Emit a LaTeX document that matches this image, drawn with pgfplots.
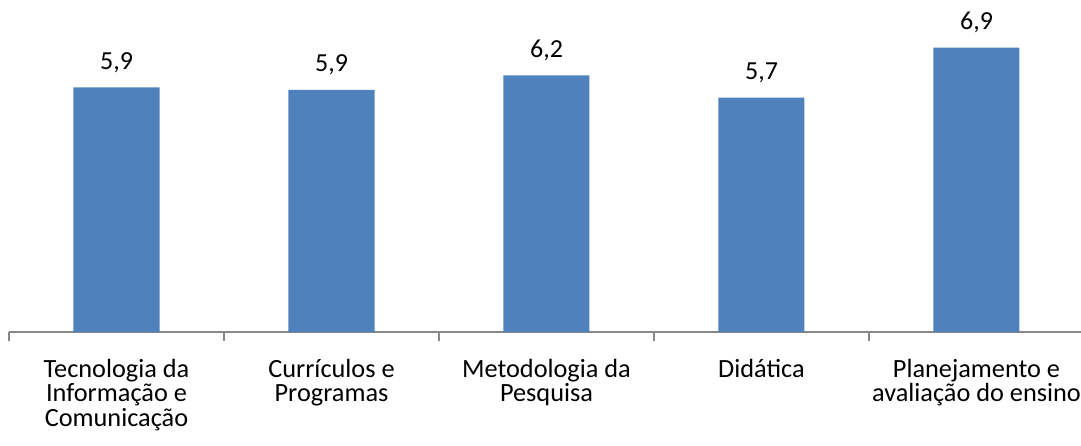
\documentclass[border=0pt]{standalone}
\usepackage{fontspec}
\setmainfont{Carlito}
\usepackage{pgfplots}
\pgfplotsset{compat=1.18}
\definecolor{barblue}{HTML}{4F81BD}
\definecolor{axgray}{HTML}{878787}
\newcommand\fl{\rule{0pt}{21pt}}
\begin{document}
\begin{tikzpicture}[x=1pt,y=1pt]
\useasboundingbox (-9,-113) rectangle (1072,332);
\clip (-9,-113) rectangle (1072,332);
\begin{axis}[
  at={(0,0)}, anchor=south west,
  scale only axis, width=1075pt, height=329.6pt,
  xmin=-0.5, xmax=4.5, ymin=0, ymax=8,
  axis x line*=bottom, axis y line=none,
  axis line style={axgray, line width=1.9pt},
  ybar, bar width=86pt,
  xtick={0,1,2,3,4},
  xticklabels={{\fl Tecnologia da\\Informação e\\Comunicação},{\fl Currículos e\\Programas},{\fl Metodologia da\\Pesquisa},{\fl Didática},{\fl Planejamento e\\avaliação do ensino}},
  major tick length=0pt,
  xticklabel style={font=\fontsize{26.3}{24.5}\selectfont, align=center, inner sep=0pt, anchor=north, yshift=-24pt, text=black},
  extra x ticks={-0.5,0.5,1.5,2.5,3.5,4.5},
  extra x tick labels={},
  extra x tick style={major tick length=9pt, tick align=outside, tick style={axgray, line width=1.5pt}},
  nodes near coords={\pgfmathprintnumber[fixed,fixed zerofill,precision=1,use comma,assume math mode=true]{\pgfplotspointmeta}},
  every node near coord/.append style={font=\fontsize{26}{26}\selectfont, anchor=base, yshift=18pt, inner sep=0pt, text=black},
  clip=false,
]
\addplot[fill=barblue, draw=none] coordinates {(0,5.94) (1,5.88) (2,6.23) (3,5.69) (4,6.90)};
\end{axis}
\end{tikzpicture}
\end{document}
